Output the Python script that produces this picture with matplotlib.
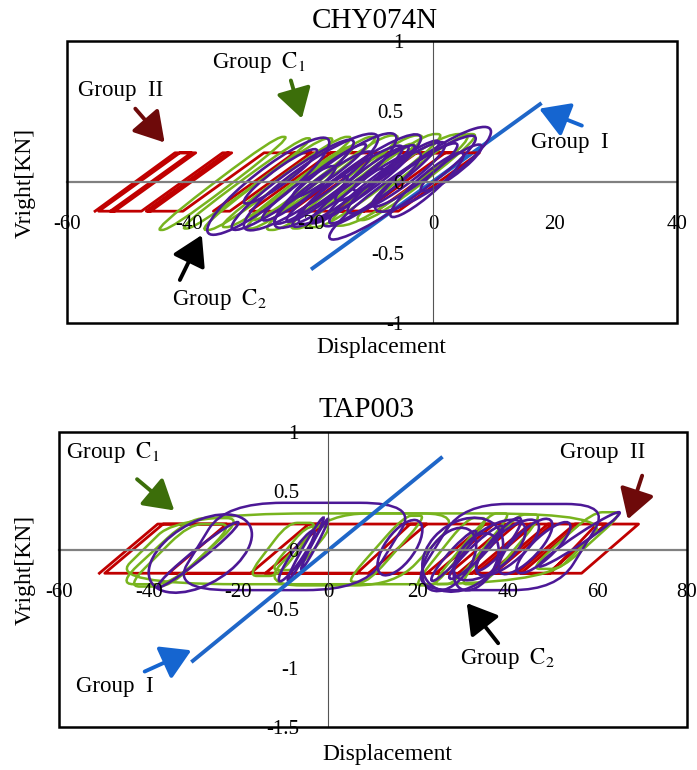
import numpy as np
import matplotlib.pyplot as plt
from matplotlib.path import Path
from matplotlib.patches import PathPatch, Rectangle, Ellipse
from matplotlib.transforms import Affine2D
from matplotlib.ticker import FixedLocator, FuncFormatter

plt.rcParams['font.family'] = ['Liberation Serif', 'DejaVu Serif']
plt.rcParams['mathtext.fontset'] = 'stix'
plt.rcParams['axes.unicode_minus'] = False

RED = '#c00000'
GREEN = '#78b41e'
PURPLE = '#4c1896'
BLUE = '#1f66c8'

# ---- CHY074N ----
chy_xticks = [-60, -40, -20, 0, 20, 40]
chy_yticks = [-1, -0.5, 0, 0.5, 1]
# Group I : linear elastic
chy_lin_x = [-20.0, 17.8]
chy_lin_y = [-0.62, 0.56]
# Group II : elastic-perfectly-plastic path (turning points)
chy_epp_x = [-55.4, -42.3, -38.9, -52.2, -54.8, -41.5, -39.6, -52.9,
             -47.8, -34.5, -33.0, -46.3, -47.0, -33.7, -33.5, -46.8,
             -41.0, -27.7, -20.0, -33.3, -36.0, -22.7, -10.0, -23.3,
             -30.0, -16.7, 7.6, -5.7, -22.0, -8.7, 2.0, -11.3,
             -16.0, -2.7, 4.0, -9.3]
chy_epp_y = [-0.207, 0.207, 0.207, -0.207, -0.207, 0.207, 0.207, -0.207,
             -0.207, 0.207, 0.207, -0.207, -0.207, 0.207, 0.207, -0.207,
             -0.207, 0.207, 0.207, -0.207, -0.207, 0.207, 0.207, -0.207,
             -0.207, 0.207, 0.207, -0.207, -0.207, 0.207, 0.207, -0.207,
             -0.207, 0.207, 0.207, -0.207]
# Group C1 loops: (left x, right x, low force, high force, elastic run)
chy_c1 = [(-46, -23, -0.34, 0.32, 20), (-42, -19, -0.33, 0.31, 20),
          (-39, -15, -0.34, 0.31, 20), (-36, -12, -0.32, 0.32, 20),
          (-32, -8, -0.33, 0.32, 20), (-29, -4, -0.34, 0.33, 20),
          (-25, 0, -0.33, 0.33, 20), (-22, 3, -0.32, 0.34, 20),
          (-19, 8, -0.31, 0.34, 20), (-14, 8.5, -0.27, 0.34, 18),
          (-31, -12, -0.27, 0.25, 16), (-21, -2, -0.27, 0.27, 16)]
# Group C2 loops: (centre x, centre y, half range, half thickness, secant slope)
chy_c2 = [(-27, -0.03, 10.0, 0.15, 0.031), (-23, -0.02, 10.0, 0.11, 0.030),
          (-20, 0.00, 11.0, 0.15, 0.028), (-18, -0.04, 8.0, 0.09, 0.030),
          (-16, 0.01, 10.0, 0.15, 0.030), (-14, -0.03, 9.0, 0.10, 0.030),
          (-12, 0.02, 10.0, 0.13, 0.029), (-10, -0.05, 8.0, 0.11, 0.030),
          (-8, 0.00, 9.0, 0.09, 0.031), (-6, 0.03, 8.0, 0.10, 0.029),
          (-5, -0.04, 12.0, 0.12, 0.029), (-3, 0.05, 7.0, 0.08, 0.030),
          (0, 0.09, 9.5, 0.14, 0.028), (-22, -0.08, 6.0, 0.07, 0.030),
          (-14, -0.10, 6.0, 0.07, 0.030), (-10, 0.06, 6.0, 0.07, 0.030),
          (-25, 0.04, 6.0, 0.07, 0.030), (-17, 0.08, 6.0, 0.06, 0.030),
          (-1, -0.02, 6.0, 0.09, 0.035), (3, 0.10, 5.0, 0.07, 0.030),
          (-19, -0.12, 5.0, 0.06, 0.030), (-8, 0.10, 5.0, 0.06, 0.030)]
chy_c2_flat = []

# ---- TAP003 ----
tap_xticks = [-60, -40, -20, 0, 20, 40, 60, 80]
tap_yticks = [-1.5, -1, -0.5, 0, 0.5, 1]
tap_lin_x = [-30.5, 25.5]
tap_lin_y = [-0.95, 0.79]
tap_epp_x = [-51.0, -38.0, 69.2, 56.5, -49.8, -36.8, -22.6, -35.6,
             -17.3, -4.3, -1.0, -14.0, 6.4, 18.3, 22.0, 9.0,
             22.0, 35.0, 37.0, 24.0, 27.0, 40.0, 42.0, 29.0,
             32.0, 45.0, 46.0, 33.0, 36.0, 49.0, 50.0, 37.0,
             42.0, 55.0, 56.0, 43.0, 49.5, 59.9, 62.0, 49.0]
tap_epp_y = [-0.197, 0.22, 0.22, -0.197, -0.197, 0.22, 0.22, -0.197,
             -0.197, 0.22, 0.22, -0.197, -0.197, 0.22, 0.22, -0.197,
             -0.197, 0.22, 0.22, -0.197, -0.197, 0.22, 0.22, -0.197,
             -0.197, 0.22, 0.22, -0.197, -0.197, 0.22, 0.22, -0.197,
             -0.197, 0.22, 0.22, -0.197, -0.197, 0.22, 0.22, -0.197]
tap_c1 = [(-49, 64, -0.29, 0.31, 16), (-47, -19, -0.29, 0.27, 16),
          (-45, -21, -0.31, 0.22, 14), (-18, -2, -0.22, 0.23, 9),
          (-13, 1, -0.17, 0.20, 8), (4, 22, -0.27, 0.29, 13),
          (19, 36, -0.30, 0.27, 12), (23, 41, -0.29, 0.31, 13),
          (29, 48, -0.29, 0.30, 13), (45, 66, -0.16, 0.32, 14),
          (-15, 30, -0.30, 0.31, 15)]
tap_c2 = [(-28.5, -0.03, 11.5, 0.29, 0.014), (-29, -0.04, 9.0, 0.06, 0.030),
          (-5, 0.01, 4.0, 0.05, 0.065), (-3, 0.05, 3.0, 0.04, 0.070),
          (-7, -0.05, 4.0, 0.08, 0.050), (56, 0.09, 9.0, 0.05, 0.025),
          (30, -0.04, 9.0, 0.30, 0.010), (36, 0.00, 8.0, 0.20, 0.020),
          (40, 0.02, 7.0, 0.16, 0.025), (44, 0.03, 6.0, 0.15, 0.030),
          (33, -0.02, 6.0, 0.08, 0.035), (28, -0.05, 5.0, 0.07, 0.040),
          (38, 0.05, 5.0, 0.10, 0.040), (48, 0.02, 6.0, 0.12, 0.030),
          (16, 0.02, 5.0, 0.18, 0.030), (27, -0.08, 6.0, 0.24, 0.020),
          (33, -0.10, 5.0, 0.22, 0.020)]
tap_c2_flat = [(-35, 20, -0.34, 0.40, 12), (18, 63, -0.34, 0.39, 12)]


def loop_path(xl, xr, yl, yh, run, r):
    # parallelogram with rounded corners drawn as quadratic curves
    c = np.array([[xl, yl], [xl + run, yh], [xr, yh], [xr - run, yl]], float)
    verts = [c[0] + r * (c[1] - c[0])]
    codes = [Path.MOVETO]
    for k in range(1, 5):
        i = k % 4
        verts += [c[i] + r * (c[(i - 1) % 4] - c[i]), c[i], c[i] + r * (c[(i + 1) % 4] - c[i])]
        codes += [Path.LINETO, Path.CURVE3, Path.CURVE3]
    return Path(verts, codes)


def tilted_loop(ax, cx, cy, a, b, k, color, z):
    # ellipse sheared along the secant stiffness of the loop
    tr = Affine2D(np.array([[1, 0, cx], [k, 1, cy], [0, 0, 1]])) + ax.transData
    ax.add_patch(Ellipse((0, 0), 2 * a, 2 * b, transform=tr, fill=False,
                         ec=color, lw=1.9, zorder=z))


def panel(ax, xticks, yticks, epp_x, epp_y, c1, c1_round, c2, c2_flat, lin_x, lin_y, lin_z):
    ax.plot(epp_x, epp_y, color=RED, lw=2.0, zorder=1.2)
    for lp in c1:
        ax.add_patch(PathPatch(loop_path(*lp, c1_round), fill=False, ec=GREEN, lw=1.8, zorder=1.3))
    for lp in c2_flat:
        ax.add_patch(PathPatch(loop_path(*lp, 0.3), fill=False, ec=PURPLE, lw=1.8, zorder=1.4))
    for lp in c2:
        tilted_loop(ax, *lp, PURPLE, 1.4)
    ax.plot(lin_x, lin_y, color=BLUE, lw=2.8, solid_capstyle='butt', zorder=lin_z)

    ax.set_xlim(xticks[0], xticks[-1])
    ax.set_ylim(yticks[0], yticks[-1])
    ax.spines['left'].set_position(('data', 0))
    ax.spines['bottom'].set_position(('data', 0))
    ax.spines['left'].set_color('#555555')
    ax.spines['left'].set_linewidth(0.8)
    ax.spines['bottom'].set_color('#808080')
    ax.spines['bottom'].set_linewidth(1.6)
    ax.spines['top'].set_visible(False)
    ax.spines['right'].set_visible(False)
    ax.add_patch(Rectangle((0, 0), 1, 1, transform=ax.transAxes, fill=False,
                           ec='black', lw=1.8, clip_on=False, zorder=3))
    ax.xaxis.set_major_locator(FixedLocator(xticks))
    ax.yaxis.set_major_locator(FixedLocator(yticks))
    fmt = FuncFormatter(lambda v, p: f'{v:g}')
    ax.xaxis.set_major_formatter(fmt)
    ax.yaxis.set_major_formatter(fmt)
    ax.tick_params(axis='x', length=0, labelsize=15, pad=24)
    ax.tick_params(axis='y', length=0, labelsize=15, pad=21)


def arrow(ax, tail, tip, color):
    ax.annotate('', xy=tip, xytext=tail,
                arrowprops=dict(arrowstyle='-|>,head_length=0.6,head_width=0.36',
                                mutation_scale=30, lw=2.8, color=color,
                                shrinkA=0, shrinkB=0), annotation_clip=False)


fig = plt.figure(figsize=(6.97, 7.70), dpi=100)

ax1 = fig.add_axes([67 / 697, 1 - 323 / 770, 610 / 697, 282 / 770])
panel(ax1, chy_xticks, chy_yticks, chy_epp_x, chy_epp_y, chy_c1, 0.45, chy_c2, chy_c2_flat,
      chy_lin_x, chy_lin_y, 1.1)
tk = dict(fontsize=16.5, va='center', ha='left')
ax1.text(-36.2, 0.85, r'Group  $\mathrm{C}_1$', **tk)
ax1.text(-58.2, 0.65, 'Group  II', **tk)
ax1.text(16.1, 0.28, 'Group  I', **tk)
ax1.text(-42.8, -0.83, r'Group  $\mathrm{C}_2$', **tk)
arrow(ax1, (-23.3, 0.72), (-21.5, 0.45), '#3c6e0a')
arrow(ax1, (-48.8, 0.52), (-44.0, 0.28), '#6e0a0a')
arrow(ax1, (24.4, 0.40), (17.4, 0.52), '#1565d0')
arrow(ax1, (-41.5, -0.695), (-37.9, -0.376), 'black')

ax2 = fig.add_axes([59 / 697, 1 - 727 / 770, 628 / 697, 295 / 770])
panel(ax2, tap_xticks, tap_yticks, tap_epp_x, tap_epp_y, tap_c1, 0.3, tap_c2, tap_c2_flat,
      tap_lin_x, tap_lin_y, 2.2)
ax2.text(-58.4, 0.83, r'Group  $\mathrm{C}_1$', **tk)
ax2.text(51.7, 0.83, 'Group  II', **tk)
ax2.text(-56.3, -1.16, 'Group  I', **tk)
ax2.text(29.4, -0.92, r'Group  $\mathrm{C}_2$', **tk)
arrow(ax2, (-42.6, 0.60), (-34.3, 0.335), '#3c6e0a')
arrow(ax2, (70.0, 0.63), (66.8, 0.26), '#6e0a0a')
arrow(ax2, (-40.9, -1.03), (-30.5, -0.85), '#1565d0')
arrow(ax2, (37.9, -0.79), (30.9, -0.45), 'black')

fig.text(375 / 697, 1 - 28 / 770, 'CHY074N', fontsize=21, ha='center', va='baseline')
fig.text(367 / 697, 1 - 417 / 770, 'TAP003', fontsize=21, ha='center', va='baseline')
fig.text(381 / 697, 1 - 353 / 770, 'Displacement', fontsize=17, ha='center', va='baseline')
fig.text(387 / 697, 1 - 760 / 770, 'Displacement', fontsize=17, ha='center', va='baseline')
fig.text(25 / 697, 1 - 183 / 770, 'Vright[KN]', fontsize=17, ha='center', va='center', rotation=90)
fig.text(25 / 697, 1 - 570 / 770, 'Vright[KN]', fontsize=17, ha='center', va='center', rotation=90)

fig.savefig('out.png', dpi=100)
